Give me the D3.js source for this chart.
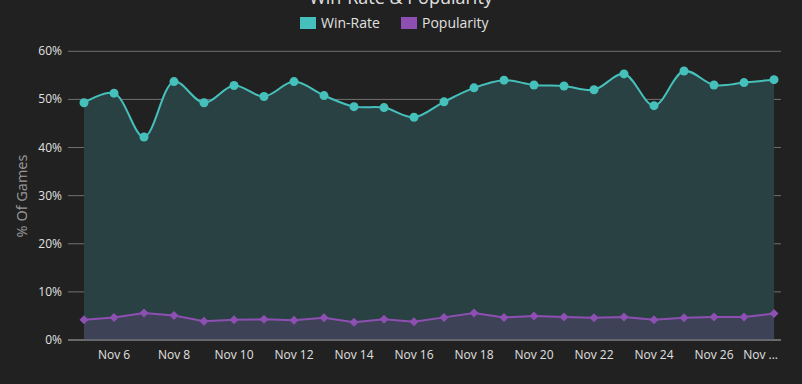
<!DOCTYPE html>
<html><head><meta charset="utf-8">
<script src="https://cdn.jsdelivr.net/npm/d3@7"></script>
<style>
html,body{margin:0;padding:0;background:#212121;}
svg{display:block;font-family:"Open Sans",sans-serif;}
</style></head>
<body><svg id="c" width="802" height="384"></svg>
<script>
const dates = ["Nov 5","Nov 6","Nov 7","Nov 8","Nov 9","Nov 10","Nov 11","Nov 12","Nov 13","Nov 14","Nov 15","Nov 16","Nov 17","Nov 18","Nov 19","Nov 20","Nov 21","Nov 22","Nov 23","Nov 24","Nov 25","Nov 26","Nov 27","Nov 28"];
const winRate = [49.3,51.3,42.2,53.7,49.3,52.9,50.6,53.7,50.8,48.5,48.3,46.3,49.5,52.4,54.0,53.0,52.8,52.0,55.3,48.7,55.9,53.0,53.5,54.1];
const popularity = [4.2,4.7,5.6,5.1,3.9,4.2,4.3,4.1,4.6,3.7,4.3,3.8,4.7,5.6,4.7,5.0,4.8,4.6,4.8,4.2,4.6,4.8,4.8,5.5];
const yTicks = [0,10,20,30,40,50,60];
const xTickLabels = ["Nov 6","Nov 8","Nov 10","Nov 12","Nov 14","Nov 16","Nov 18","Nov 20","Nov 22","Nov 24","Nov 26","Nov ..."];
const seriesNames = ["Win-Rate","Popularity"];

(function(){
const svg = d3.select("#c");
const gLeft = 68, gRight = 781, gTop = 51.3, gBottom = 340;

const x = d3.scalePoint().domain(dates).range([84, 774]);
const y = d3.scaleLinear().domain([0, 60]).range([gBottom, gTop]);

svg.append("g").selectAll("line").data(yTicks).join("line")
  .attr("x1", gLeft).attr("x2", gRight)
  .attr("y1", d => y(d)).attr("y2", d => y(d))
  .attr("stroke", "#707070").attr("stroke-width", 1);

svg.append("g").selectAll("text").data(yTicks).join("text")
  .attr("x", 62).attr("y", d => y(d) + 4)
  .attr("text-anchor", "end").attr("fill", "#e0e0e0").attr("font-size", 12)
  .text(d => d + "%");

svg.append("text").attr("transform", `translate(27,196) rotate(-90)`)
  .attr("text-anchor", "middle").attr("fill", "#9a9a9a").attr("font-size", 14.5)
  .text("% Of Games");

const curve = d3.curveCatmullRom.alpha(0.5);
const areaW = d3.area().x((d,i) => x(dates[i])).y0(y(0)).y1(d => y(d)).curve(curve);
const lineW = d3.line().x((d,i) => x(dates[i])).y(d => y(d)).curve(curve);
svg.append("path").datum(winRate).attr("d", areaW).attr("fill", "#2a4143");

const areaP = d3.area().x((d,i) => x(dates[i])).y0(y(0)).y1(d => y(d));
const lineP = d3.line().x((d,i) => x(dates[i])).y(d => y(d));
svg.append("path").datum(popularity).attr("d", areaP).attr("fill", "#3d4256");

svg.append("line").attr("x1", gLeft).attr("x2", gRight).attr("y1", y(0)).attr("y2", y(0))
  .attr("stroke", "#8a8a8a").attr("stroke-width", 1);

svg.append("path").datum(winRate).attr("d", lineW).attr("fill", "none")
  .attr("stroke", "#45c0bb").attr("stroke-width", 2);
svg.append("g").selectAll("circle").data(winRate).join("circle")
  .attr("cx", (d,i) => x(dates[i])).attr("cy", d => y(d)).attr("r", 4.5)
  .attr("fill", "#45c0bb");

svg.append("path").datum(popularity).attr("d", lineP).attr("fill", "none")
  .attr("stroke", "#8e4fb3").attr("stroke-width", 2);
svg.append("g").selectAll("path.m").data(popularity).join("path")
  .attr("class", "m")
  .attr("d", "M0,-4.5L4.5,0L0,4.5L-4.5,0Z")
  .attr("transform", (d,i) => `translate(${x(dates[i])},${y(d)})`)
  .attr("fill", "#8e4fb3");

const nL = xTickLabels.length;
svg.append("g").selectAll("text").data(xTickLabels).join("text")
  .attr("x", (d,i) => i === nL - 1 ? x(dates[2*i+1]) + 4 : x(dates[2*i+1]))
  .attr("y", 359)
  .attr("text-anchor", (d,i) => i === nL - 1 ? "end" : "middle")
  .attr("fill", "#e0e0e0").attr("font-size", 12)
  .text(d => d);

svg.append("text").attr("x", 401).attr("y", 4).attr("text-anchor", "middle")
  .attr("fill", "#e0e0e0").attr("font-size", 18).text("Win-Rate & Popularity");

const colors = ["#45c0bb", "#8e4fb3"];
const lx = [300, 401];
seriesNames.forEach((n, i) => {
  svg.append("rect").attr("x", lx[i]).attr("y", 17).attr("width", 16).attr("height", 12).attr("fill", colors[i]);
  svg.append("text").attr("x", lx[i] + 21).attr("y", 28).attr("fill", "#e0e0e0").attr("font-size", 14).text(n);
});
})();
</script></body></html>
